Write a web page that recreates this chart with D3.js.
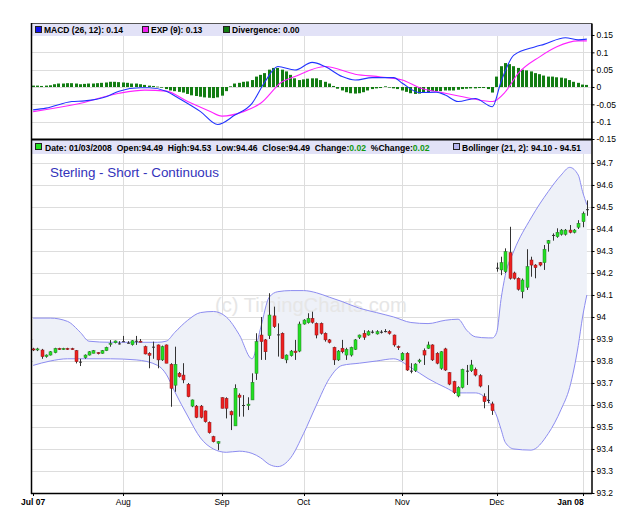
<!DOCTYPE html>
<html>
<head>
<meta charset="utf-8">
<script src="https://cdnjs.cloudflare.com/ajax/libs/d3/7.8.5/d3.min.js"></script>
<style>
body { margin: 0; background: #fff; }
svg { display: block; font-family: "Liberation Sans", Arial, sans-serif; }
</style>
</head>
<body>
<script>
// daily candles, Jul 2 2007 .. Jan 3 2008 (trading days)
var opens = [93.855,93.85,93.85,93.82,93.827,93.838,93.857,93.852,93.857,93.856,
  93.847,93.797,93.815,93.827,93.835,93.838,93.835,93.847,93.878,93.883,
  93.88,93.89,93.883,93.874,93.892,93.89,93.865,93.835,93.865,93.873,
  93.805,93.873,93.785,93.69,93.744,93.736,93.694,93.595,93.595,93.595,
  93.573,93.521,93.456,93.426,93.633,93.63,93.57,93.505,93.645,93.6,
  93.597,93.623,93.744,93.918,93.896,93.915,94.005,93.921,93.926,93.805,
  93.824,93.845,93.845,93.968,93.974,93.994,93.971,93.971,93.926,93.896,
  93.862,93.805,93.858,93.827,93.827,93.853,93.908,93.926,93.918,93.933,
  93.923,93.933,93.936,93.933,93.918,93.865,93.805,93.835,93.756,93.756,
  93.797,93.847,93.858,93.873,93.835,93.767,93.855,93.747,93.706,93.641,
  93.68,93.756,93.756,93.762,93.733,93.638,93.623,93.605,94.224,94.214,
  94.206,94.292,94.2,94.176,94.115,94.135,94.259,94.236,94.247,94.247,
  94.335,94.373,94.365,94.376,94.376,94.395,94.385,94.408,94.433,94.49];
var highs = [93.86,93.86,93.855,93.83,93.845,93.86,93.86,93.86,93.86,93.86,
  93.85,93.81,93.83,93.845,93.85,93.84,93.85,93.865,93.895,93.893,
  93.89,93.914,93.89,93.895,93.914,93.9,93.87,93.84,93.888,93.875,
  93.87,93.875,93.79,93.865,93.75,93.79,93.7,93.625,93.6,93.6,
  93.575,93.525,93.46,93.435,93.635,93.635,93.575,93.694,93.653,93.645,
  93.635,93.744,93.926,94.0,93.9,94.108,94.047,93.971,93.93,93.83,
  93.85,93.896,93.979,93.99,94.017,94.024,93.975,93.975,93.93,93.9,
  93.865,93.85,93.896,93.86,93.865,93.9,93.92,93.94,93.94,93.94,
  93.94,93.94,93.945,93.94,93.92,93.87,93.84,93.84,93.79,93.79,
  93.81,93.857,93.888,93.876,93.84,93.845,93.86,93.75,93.71,93.685,
  93.765,93.782,93.805,93.77,93.74,93.653,93.69,93.615,94.247,94.274,
  94.312,94.41,94.206,94.18,94.175,94.308,94.274,94.24,94.25,94.327,
  94.35,94.38,94.403,94.4,94.4,94.418,94.4,94.44,94.479,94.53];
var lows = [93.845,93.845,93.81,93.815,93.825,93.835,93.85,93.85,93.85,93.85,
  93.789,93.777,93.81,93.825,93.835,93.83,93.833,93.845,93.865,93.88,
  93.875,93.887,93.88,93.87,93.873,93.885,93.83,93.767,93.81,93.767,
  93.8,93.79,93.592,93.66,93.725,93.699,93.635,93.59,93.54,93.539,
  93.52,93.47,93.43,93.395,93.585,93.539,93.486,93.505,93.547,93.547,
  93.577,93.623,93.714,93.805,93.805,93.9,93.95,93.82,93.81,93.79,
  93.82,93.805,93.84,93.965,93.97,93.97,93.903,93.92,93.888,93.88,
  93.782,93.8,93.835,93.805,93.82,93.85,93.9,93.896,93.915,93.925,
  93.92,93.925,93.93,93.92,93.865,93.85,93.8,93.755,93.744,93.75,
  93.79,93.782,93.855,93.8,93.785,93.76,93.755,93.69,93.65,93.635,
  93.675,93.691,93.75,93.73,93.68,93.585,93.608,93.555,94.206,94.19,
  94.2,94.17,94.17,94.12,94.085,94.123,94.183,94.176,94.23,94.214,
  94.297,94.347,94.36,94.37,94.37,94.38,94.38,94.4,94.408,94.46];
var closes = [93.85,93.855,93.82,93.827,93.842,93.857,93.852,93.857,93.853,93.852,
  93.797,93.797,93.827,93.842,93.847,93.833,93.847,93.862,93.88,93.891,
  93.88,93.89,93.883,93.892,93.892,93.888,93.832,93.826,93.865,93.805,
  93.865,93.79,93.676,93.785,93.729,93.714,93.638,93.623,93.544,93.544,
  93.524,93.474,93.433,93.433,93.585,93.585,93.555,93.676,93.635,93.6,
  93.604,93.703,93.888,93.888,93.842,94.009,93.956,93.921,93.812,93.827,
  93.845,93.838,93.968,93.986,93.994,93.976,93.918,93.926,93.896,93.885,
  93.805,93.845,93.842,93.853,93.862,93.896,93.918,93.908,93.933,93.933,
  93.933,93.933,93.936,93.926,93.873,93.862,93.835,93.759,93.756,93.786,
  93.804,93.827,93.873,93.805,93.79,93.842,93.759,93.695,93.656,93.68,
  93.762,93.756,93.782,93.736,93.686,93.615,93.623,93.574,94.224,94.247,
  94.297,94.176,94.176,94.126,94.168,94.229,94.236,94.224,94.236,94.308,
  94.347,94.373,94.385,94.395,94.395,94.385,94.395,94.426,94.47,94.49];

// MACD divergence histogram, one bar per day
var divergence = [0.004,0.004,0.003,0.004,0.005,
  0.008,0.01,0.01,0.011,0.011,0.01,0.008,0.009,0.01,0.01,0.011,0.012,0.013,0.015,0.015,0.014,0.013,
  0.012,0.01,0.01,0.008,0.006,0.004,0.003,0.001,-0.002,
  -0.006,-0.01,-0.012,-0.014,-0.016,-0.02,-0.024,-0.026,-0.028,-0.03,-0.031,-0.032,-0.03,-0.025,-0.012,0.002,
  0.01,0.012,0.015,0.016,0.02,0.03,0.035,0.04,
  0.05,0.055,0.055,0.05,
  0.045,0.035,0.025,0.02,0.022,0.024,0.025,0.025,0.02,0.015,0.01,
  0.003,
  -0.005,-0.01,-0.015,-0.018,-0.019,-0.018,-0.015,-0.01,
  -0.006,-0.004,-0.003,0.002,0,
  -0.004,-0.006,-0.01,-0.014,-0.018,-0.02,-0.019,-0.017,-0.015,-0.012,-0.012,-0.012,-0.01,
  -0.01,-0.01,-0.008,-0.006,-0.005,-0.004,-0.004,-0.003,-0.003,-0.006,-0.016,
  0.03,0.06,0.069,0.066,0.06,0.055,0.05,0.048,0.045,0.04,0.037,0.033,0.03,0.03,0.028,0.027,0.025,0.02,0.015,0.012,0.007,0.006];

// MACD and signal lines, read at these days
var macdDays = [0,3,9,12,17,20,25,27,31,34,39,43,47,51,54,57,61,65,68,72,75,79,84,86,90,94,96,99,103,107,109,112,117,119,124,127,129];
var macdVals = [-0.066,-0.061,-0.042,-0.04,-0.028,-0.012,-0.002,-0.002,-0.012,-0.033,-0.071,-0.108,-0.081,-0.047,0.015,0.059,0.049,0.071,0.059,0.03,0.02,0.027,0.027,0.011,-0.016,-0.015,-0.023,-0.042,-0.033,-0.057,0.015,0.092,0.116,0.123,0.142,0.136,0.138];
var signalDays = [0,10,20,26,31,36,41,44,49,53,58,61,68,75,81,86,90,96,102,107,110,113,118,122,127,129];
var signalVals = [-0.071,-0.05,-0.018,-0.009,-0.012,-0.042,-0.069,-0.084,-0.071,-0.047,0.015,0.03,0.059,0.037,0.029,0.02,-0.002,-0.018,-0.033,-0.042,-0.014,0.039,0.087,0.116,0.133,0.133];

// Bollinger (21, 2) band, read at these days
var bbDays = [0,4,8,11,13,18,24,29,31,33,36,39,42,45,48,51,53,55,57,60,63,66,69,72,76,80,84,88,92,96,99,101,103,106,107,108,109,110,112,116,120,123,125,127,128,129];
var bbUpper = [93.995,93.995,93.98,93.93,93.89,93.885,93.885,93.885,93.89,93.93,93.985,94.02,94.025,94.0,93.92,93.81,93.95,94.09,94.115,94.12,94.12,94.11,94.09,94.07,94.04,94.02,94.0,93.975,93.97,93.985,93.99,93.94,93.91,93.905,93.905,93.93,94.08,94.19,94.3,94.45,94.57,94.645,94.68,94.645,94.57,94.51];
var bbLower = [93.78,93.8,93.81,93.81,93.81,93.81,93.805,93.78,93.74,93.66,93.55,93.45,93.4,93.385,93.39,93.38,93.36,93.33,93.32,93.36,93.47,93.6,93.72,93.78,93.79,93.8,93.81,93.77,93.72,93.68,93.655,93.655,93.655,93.62,93.59,93.55,93.49,93.43,93.4,93.395,93.47,93.58,93.68,93.87,94.0,94.1];

var monthDays = [0,21,44,63,86,108,128];
var monthLabels = ["Jul 07","Aug","Sep","Oct","Nov","Dec","Jan 08"];
var macdTicks = [0.15,0.1,0.05,0,-0.05,-0.1,-0.15];
var priceTicks = [94.7,94.6,94.5,94.4,94.3,94.2,94.1,94,93.9,93.8,93.7,93.6,93.5,93.4,93.3,93.2];

var width = 625, height = 521;
var left = 31, right = 591, barRight = 589;
var macdTop = 23, macdBottom = 139, priceTop = 139, priceBottom = 493;

var svg = d3.select("body").append("svg")
    .attr("width", width)
    .attr("height", height);

var x = d3.scaleBand().domain(d3.range(closes.length)).range([left, barRight]);
var cx = function(i){ return x(i) + x.bandwidth() / 2; };

var yM = d3.scaleLinear().domain([-0.15, 0.1846]).range([macdBottom, macdTop]);
var yP = d3.scaleLinear().domain([93.2, 94.809]).range([priceBottom, priceTop]);

var grid = svg.append("g").attr("stroke", "#dddddd").attr("stroke-width", 1);

// horizontal grid
grid.selectAll(".hm").data(macdTicks).enter().append("line")
    .attr("x1", left).attr("x2", right)
    .attr("y1", function(d){ return Math.round(yM(d)) + 0.5; })
    .attr("y2", function(d){ return Math.round(yM(d)) + 0.5; });
grid.selectAll(".hp").data(priceTicks).enter().append("line")
    .attr("x1", left).attr("x2", right)
    .attr("y1", function(d){ return Math.round(yP(d)) + 0.5; })
    .attr("y2", function(d){ return Math.round(yP(d)) + 0.5; });

// vertical month grid
grid.selectAll(".vm").data(monthDays.slice(1)).enter().append("line")
    .attr("x1", function(d){ return Math.round(cx(d)) + 0.5; })
    .attr("x2", function(d){ return Math.round(cx(d)) + 0.5; })
    .attr("y1", macdTop).attr("y2", priceBottom);

// legend bands
svg.append("rect").attr("x", left).attr("y", macdTop).attr("width", right - left).attr("height", 13)
    .attr("fill", "#e2e2f7");
svg.append("rect").attr("x", left).attr("y", priceTop).attr("width", right - left).attr("height", 15)
    .attr("fill", "#e2e2f7");

// ---- MACD panel ----
svg.append("g").selectAll("rect").data(divergence).enter().append("rect")
    .attr("x", function(d, i){ return Math.round(cx(i) - 1.5); })
    .attr("width", 3)
    .attr("y", function(d){ return d >= 0 ? yM(d) : yM(0); })
    .attr("height", function(d){ return Math.max(0.6, Math.abs(yM(d) - yM(0))); })
    .attr("fill", "#137d13");

var macdLine = d3.line()
    .x(function(d){ return cx(d[0]); })
    .y(function(d){ return yM(d[1]); })
    .curve(d3.curveMonotoneX);

svg.append("path")
    .datum(d3.zip(signalDays, signalVals))
    .attr("d", macdLine)
    .attr("fill", "none").attr("stroke", "#ff22ff").attr("stroke-width", 1.1);
svg.append("path")
    .datum(d3.zip(macdDays, macdVals))
    .attr("d", macdLine)
    .attr("fill", "none").attr("stroke", "#2233ff").attr("stroke-width", 1.1);

// ---- price panel ----
var bb = d3.zip(bbDays, bbUpper, bbLower);
svg.append("path")
    .datum(bb)
    .attr("d", d3.area()
      .x(function(d){ return cx(d[0]); })
      .y0(function(d){ return yP(d[2]); })
      .y1(function(d){ return yP(d[1]); })
      .curve(d3.curveMonotoneX))
    .attr("fill", "#eef1f8");

svg.append("text")
    .attr("x", 215).attr("y", 312)
    .attr("font-size", 20.2)
    .attr("fill", "#e6e6e6")
    .text("(c) TimingCharts.com");

var bandLine = function(k){
  return d3.line()
    .x(function(d){ return cx(d[0]); })
    .y(function(d){ return yP(d[k]); })
    .curve(d3.curveMonotoneX);
};
svg.append("path").datum(bb).attr("d", bandLine(1))
    .attr("fill", "none").attr("stroke", "#8c8cf0").attr("stroke-width", 1);
svg.append("path").datum(bb).attr("d", bandLine(2))
    .attr("fill", "none").attr("stroke", "#8c8cf0").attr("stroke-width", 1);

svg.append("text")
    .attr("x", 50).attr("y", 177)
    .attr("font-size", 13.4)
    .attr("fill", "#3333bb")
    .text("Sterling - Short - Continuous");

var candles = svg.append("g").selectAll("g")
    .data(closes)
  .enter().append("g");

candles.append("line")
    .attr("x1", function(d, i){ return Math.round(cx(i)) + 0.5; })
    .attr("x2", function(d, i){ return Math.round(cx(i)) + 0.5; })
    .attr("y1", function(d, i){ return yP(highs[i]); })
    .attr("y2", function(d, i){ return yP(lows[i]); })
    .attr("stroke", "#333").attr("stroke-width", 1);

candles.append("rect")
    .attr("x", function(d, i){ return Math.round(cx(i)) - 1; })
    .attr("width", 3)
    .attr("y", function(d, i){ return yP(Math.max(opens[i], d)); })
    .attr("height", function(d, i){ return Math.max(1, Math.abs(yP(opens[i]) - yP(d))); })
    .attr("fill", function(d, i){
      if (Math.abs(d - opens[i]) < 0.001) return "#333";
      return d > opens[i] ? "#22e022" : "#ee2020";
    })
    .attr("stroke", function(d, i){
      if (Math.abs(d - opens[i]) < 0.001) return "none";
      return d > opens[i] ? "#2a7a2a" : "#8a1a1a";
    })
    .attr("stroke-width", 0.5);

// ---- frames & axes ----
var frame = svg.append("g").attr("fill", "none");
frame.append("rect").attr("x", left + 0.5).attr("y", macdTop + 0.5)
    .attr("width", right - left).attr("height", macdBottom - macdTop)
    .attr("stroke", "#555");
frame.append("line").attr("x1", left).attr("x2", right + 1)
    .attr("y1", priceTop + 0.5).attr("y2", priceTop + 0.5)
    .attr("stroke", "#000").attr("stroke-width", 2);
frame.append("line").attr("x1", left + 0.5).attr("x2", left + 0.5)
    .attr("y1", macdTop).attr("y2", priceBottom + 1)
    .attr("stroke", "#000").attr("stroke-width", 1.5);
frame.append("line").attr("x1", left).attr("x2", right + 1)
    .attr("y1", priceBottom + 0.5).attr("y2", priceBottom + 0.5)
    .attr("stroke", "#000").attr("stroke-width", 1.5);

var fmt = function(d){ return String(d); };

var axM = svg.append("g")
    .attr("transform", "translate(" + (right + 0.5) + ",0)")
    .call(d3.axisRight(yM).tickValues(macdTicks).tickSize(3).tickSizeOuter(0).tickFormat(fmt));
var axP = svg.append("g")
    .attr("transform", "translate(" + (right + 0.5) + ",0)")
    .call(d3.axisRight(yP).tickValues(priceTicks).tickSize(3).tickSizeOuter(0).tickFormat(fmt));
[axM, axP].forEach(function(ax){
  ax.select(".domain").attr("stroke", "#000").attr("stroke-width", 1.5);
  ax.selectAll(".tick line").attr("stroke", "#000");
  ax.selectAll(".tick text")
    .attr("x", 5)
    .attr("font-family", "Liberation Sans, Arial, sans-serif")
    .attr("font-size", 8.5).attr("fill", "#000");
});

var xTicks = svg.append("g");
xTicks.selectAll("line").data(monthDays).enter().append("line")
    .attr("x1", function(d){ return Math.round(cx(d)) + 0.5; })
    .attr("x2", function(d){ return Math.round(cx(d)) + 0.5; })
    .attr("y1", priceBottom).attr("y2", priceBottom + 3)
    .attr("stroke", "#000");
xTicks.selectAll("text").data(monthDays).enter().append("text")
    .attr("x", function(d, i){ return i === monthDays.length - 1 ? cx(d) - 12 : cx(d); })
    .attr("y", 505)
    .attr("text-anchor", "middle")
    .attr("font-size", 8.5)
    .attr("font-weight", function(d, i){ return (i === 0 || i === monthDays.length - 1) ? "bold" : "normal"; })
    .text(function(d, i){ return monthLabels[i]; });

// ---- legends ----
var swatch = function(xp, yp, color){
  svg.append("rect").attr("x", xp + 0.5).attr("y", yp + 0.5).attr("width", 6).attr("height", 6)
    .attr("fill", color).attr("stroke", "#222").attr("stroke-width", 1);
};
var label = function(xp, yp, txt){
  return svg.append("text").attr("x", xp).attr("y", yp)
    .attr("font-size", 8.5).attr("font-weight", "bold").attr("fill", "#000").text(txt);
};

swatch(35, 26, "#1111ee");
label(44, 33, "MACD (26, 12): 0.14");
swatch(142, 26, "#ee22ee");
label(151, 33, "EXP (9): 0.13");
swatch(223, 26, "#137d13");
label(232, 33, "Divergence: 0.00");

swatch(35, 143, "#22e022");
var lg = svg.append("text").attr("x", 45).attr("y", 150.5)
    .attr("font-size", 8.6).attr("font-weight", "bold").attr("fill", "#000")
    .attr("xml:space", "preserve");
lg.append("tspan").text("Date: 01/03/2008  Open:94.49  High:94.53  Low:94.46  Close:94.49  Change:");
lg.append("tspan").attr("fill", "#119911").text("0.02");
lg.append("tspan").text("  %Change:");
lg.append("tspan").attr("fill", "#119911").text("0.02");

swatch(453, 143, "#b4b4ec");
label(462, 150.5, "Bollinger (21, 2): 94.10 - 94.51");
</script>
</body>
</html>
